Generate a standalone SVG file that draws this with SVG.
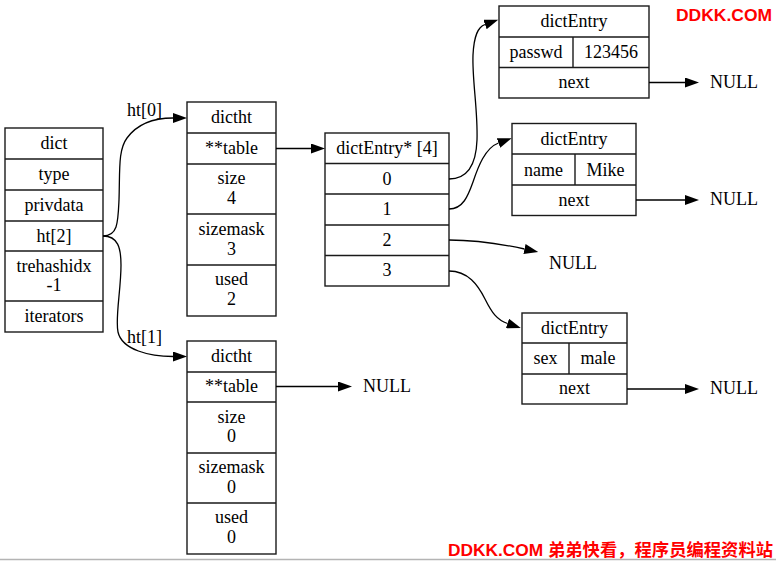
<svg xmlns="http://www.w3.org/2000/svg" width="776" height="561" viewBox="0 0 776 561">
<style>
.box{fill:#fff;stroke:#1a1a1a;stroke-width:1.4}
.sep{stroke:#1a1a1a;stroke-width:1.4;fill:none}
.t{font-family:"Liberation Serif","Times New Roman",serif;font-size:18px;fill:#000;text-anchor:middle}
.l{font-family:"Liberation Serif","Times New Roman",serif;font-size:18px;fill:#000}
.e{fill:none;stroke:#000;stroke-width:1.3;marker-end:url(#ah)}
.wm{font-family:"Liberation Sans","Noto Sans CJK SC",sans-serif;font-weight:bold;font-size:17px;fill:#f00}
</style>
<defs>
<marker id="ah" viewBox="0 0 14 10" refX="0" refY="5" markerWidth="14" markerHeight="10" markerUnits="userSpaceOnUse" orient="auto">
<path d="M0,0 L14,5 L0,10 z" fill="#000"/>
</marker>
</defs>
<rect width="776" height="561" fill="#fff"/>

<g id="dict">
<rect class="box" x="5" y="128" width="98" height="204"/>
<path class="sep" d="M5,159H103M5,190H103M5,221H103M5,251H103M5,301H103"/>
<text class="t" x="54" y="149">dict</text>
<text class="t" x="54" y="180">type</text>
<text class="t" x="54" y="211">privdata</text>
<text class="t" x="54" y="242">ht[2]</text>
<text class="t" x="54" y="272">trehashidx</text>
<text class="t" x="54" y="291">-1</text>
<text class="t" x="54" y="322">iterators</text>
</g>

<g id="dictht0">
<rect class="box" x="187" y="102" width="89" height="214"/>
<path class="sep" d="M187,133H276M187,164H276M187,214H276M187,265H276"/>
<text class="t" x="231.5" y="123">dictht</text>
<text class="t" x="231.5" y="154">**table</text>
<text class="t" x="231.5" y="184">size</text>
<text class="t" x="231.5" y="204">4</text>
<text class="t" x="231.5" y="235">sizemask</text>
<text class="t" x="231.5" y="255">3</text>
<text class="t" x="231.5" y="285">used</text>
<text class="t" x="231.5" y="305">2</text>
</g>

<g id="dictht1">
<rect class="box" x="187" y="341" width="89" height="213"/>
<path class="sep" d="M187,372H276M187,402H276M187,453H276M187,503H276"/>
<text class="t" x="231.5" y="362">dictht</text>
<text class="t" x="231.5" y="392">**table</text>
<text class="t" x="231.5" y="423">size</text>
<text class="t" x="231.5" y="442">0</text>
<text class="t" x="231.5" y="473">sizemask</text>
<text class="t" x="231.5" y="493">0</text>
<text class="t" x="231.5" y="523">used</text>
<text class="t" x="231.5" y="543">0</text>
</g>

<g id="table">
<rect class="box" x="325" y="133" width="124" height="153"/>
<path class="sep" d="M325,163.5H449M325,194H449M325,225H449M325,255.5H449"/>
<text class="t" x="387" y="154">dictEntry* [4]</text>
<text class="t" x="387" y="184.5">0</text>
<text class="t" x="387" y="215">1</text>
<text class="t" x="387" y="245.5">2</text>
<text class="t" x="387" y="276">3</text>
</g>

<g id="entry_passwd">
<rect class="box" x="499" y="6" width="150" height="92"/>
<path class="sep" d="M499,37H649M499,67.5H649M573,37V67.5"/>
<text class="t" x="574" y="27">dictEntry</text>
<text class="t" x="536" y="58">passwd</text>
<text class="t" x="611" y="58">123456</text>
<text class="t" x="574" y="88">next</text>
</g>

<g id="entry_name">
<rect class="box" x="512" y="123.5" width="124" height="92"/>
<path class="sep" d="M512,154H636M512,185H636M575,154V185"/>
<text class="t" x="574" y="145">dictEntry</text>
<text class="t" x="543.5" y="175.5">name</text>
<text class="t" x="605.5" y="175.5">Mike</text>
<text class="t" x="574" y="206">next</text>
</g>

<g id="entry_sex">
<rect class="box" x="522" y="313" width="105" height="91"/>
<path class="sep" d="M522,343H627M522,374H627M569,343V374"/>
<text class="t" x="574.5" y="334">dictEntry</text>
<text class="t" x="545.5" y="364">sex</text>
<text class="t" x="598" y="364">male</text>
<text class="t" x="574.5" y="394">next</text>
</g>

<g id="nulls">
<text class="l" x="710" y="88">NULL</text>
<text class="l" x="710" y="205">NULL</text>
<text class="l" x="549" y="269">NULL</text>
<text class="l" x="710" y="394">NULL</text>
<text class="l" x="363" y="392">NULL</text>
</g>

<g id="connectors">
<path class="e" d="M103,236 C118,236 118,222 119,200 C120,170 118,150 127,138 C138,123 155,118 173,118"/>
<text class="l" x="127" y="116">ht[0]</text>
<path class="e" d="M103,236 C118,236 121,248 121,265 C121,290 115,318 118,332 C122,350 150,356.5 173,356.5"/>
<text class="l" x="127" y="343">ht[1]</text>
<path class="e" d="M276,148.5H311"/>
<path class="e" d="M276,386.5H338"/>
<path class="e" d="M449,179 C466,179 476,168 477,140 C478,110 472,80 473,55 C474,35 478,27 485,24.5"/>
<path class="e" d="M449,209 C463,209 468,196 473,182 C478,167 485,148 498.5,143"/>
<path class="e" d="M449,240 C470,240 497,243 524.5,249"/>
<path class="e" d="M449,271 C468,271 478,285 485,299 C492,313 497,320 507.5,323.5"/>
<path class="e" d="M649,82.5H685"/>
<path class="e" d="M636,200H685"/>
<path class="e" d="M627,389H685"/>
</g>

<line x1="0" y1="559.5" x2="776" y2="559.5" stroke="#b4b4b4" stroke-width="1.5"/>
<text class="wm" x="676" y="20.5" textLength="96" lengthAdjust="spacingAndGlyphs">DDKK.COM</text>
<text class="wm" x="448" y="556" textLength="325" lengthAdjust="spacingAndGlyphs">DDKK.COM 弟弟快看，程序员编程资料站</text>
</svg>
